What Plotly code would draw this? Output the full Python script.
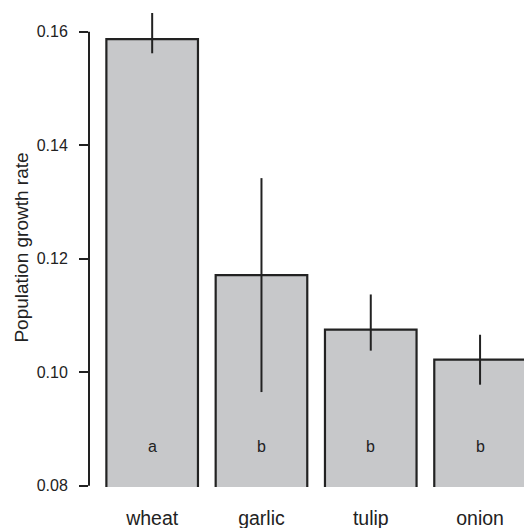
import plotly.graph_objects as go

categories = ["wheat", "garlic", "tulip", "onion"]
means = [0.1587, 0.1171, 0.1075, 0.1022]
upper = [0.1633, 0.1342, 0.1137, 0.1066]
lower = [0.1562, 0.0965, 0.1038, 0.0978]
letters = ["a", "b", "b", "b"]
yticks = [0.08, 0.10, 0.12, 0.14, 0.16]

plus = [u - m for u, m in zip(upper, means)]
minus = [m - l for m, l in zip(means, lower)]

FONT = "Liberation Sans, Arial, Helvetica, sans-serif"
INK = "#222222"

fig = go.Figure()
fig.add_trace(go.Bar(
    x=categories, y=means, width=0.838,
    marker=dict(color="#c7c8ca", line=dict(color=INK, width=2.2)),
    error_y=dict(type="data", symmetric=False, array=plus, arrayminus=minus,
                 color=INK, thickness=2, width=0),
    showlegend=False,
))

for c, t in zip(categories, letters):
    fig.add_annotation(x=c, y=0.0869, text=t, showarrow=False,
                       xanchor="center", yanchor="middle",
                       font=dict(family=FONT, size=16, color=INK))

# R-style y axis line spanning only the tick range
fig.add_shape(type="line", xref="paper", yref="y", x0=0, x1=0,
              y0=yticks[0], y1=yticks[-1], line=dict(color=INK, width=2))

fig.update_layout(
    width=524, height=528,
    margin=dict(l=89, r=0, t=8, b=41, autoexpand=False),
    plot_bgcolor="white", paper_bgcolor="white",
    font=dict(family=FONT, color=INK),
    xaxis=dict(range=[-0.578, 3.402], showgrid=False, zeroline=False,
               showline=False, ticks="", ticklabelstandoff=17,
               tickfont=dict(family=FONT, size=19.5, color=INK)),
    yaxis=dict(range=[0.07977, 0.16418], tickvals=yticks,
               ticktext=[f"{v:.2f}" for v in yticks],
               showgrid=False, zeroline=False, showline=False,
               ticks="outside", ticklen=9, tickwidth=2, tickcolor=INK,
               ticklabelstandoff=8,
               tickfont=dict(family=FONT, size=16, color=INK),
               title=dict(text="Population growth rate", standoff=3,
                          font=dict(family=FONT, size=19, color=INK))),
)

fig.write_html("out.html",
               config={"displayModeBar": False, "staticPlot": True},
               post_script="document.body.style.margin='0';"
                           "document.body.style.overflow='hidden';")
